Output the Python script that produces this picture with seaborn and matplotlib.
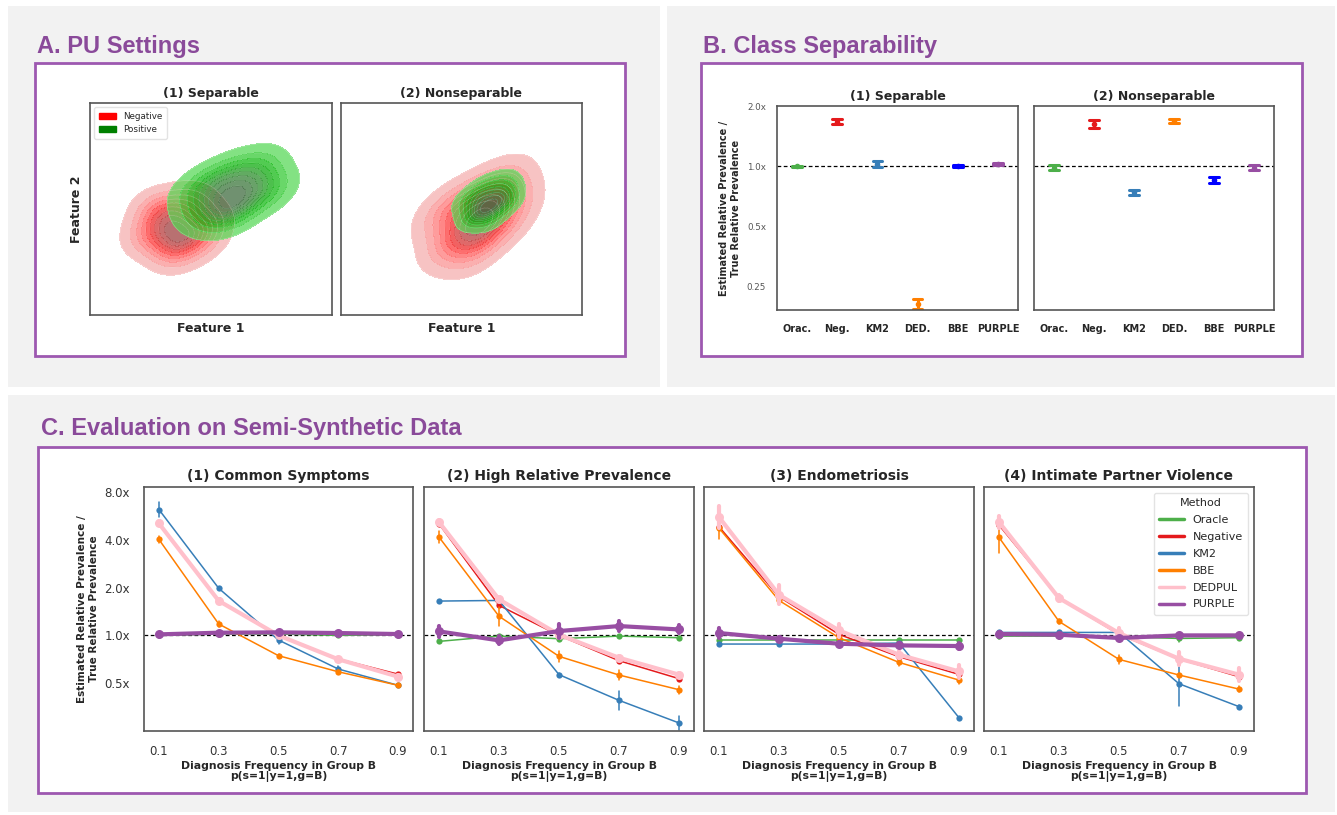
import numpy as np
import pandas as pd
import matplotlib.pyplot as plt
import seaborn as sns
from matplotlib.patches import Rectangle, Patch
from matplotlib.lines import Line2D
from matplotlib.ticker import NullLocator

# ---------------- data ----------------
# A. PU settings: sample clouds (feature 1, feature 2)
sep_neg_x = [2.4, 3.0, 3.5, 3.7, 4.2, 2.8, 3.3, 4.6, 3.9, 2.2, 3.6, 4.4, 3.1, 5.0, 3.4, 2.6, 4.0, 3.8, 4.8, 3.2]
sep_neg_y = [4.0, 3.8, 4.0, 4.5, 3.3, 5.1, 4.9, 3.7, 3.6, 3.5, 3.4, 5.4, 4.3, 4.6, 2.8, 4.8, 4.1, 5.3, 4.0, 3.1]
sep_pos_x = [4.5, 5.2, 5.8, 6.2, 6.7, 5.0, 5.4, 7.1, 6.3, 4.3, 5.9, 6.9, 5.3, 7.5, 5.7, 4.8, 6.4, 6.0, 7.3, 5.6]
sep_pos_y = [5.0, 5.3, 5.7, 6.2, 6.3, 4.6, 6.5, 6.7, 5.2, 5.8, 5.0, 7.2, 6.0, 6.1, 4.5, 6.2, 5.6, 6.9, 5.6, 5.1]
nonsep_neg_x = [4.3, 5.0, 5.6, 5.9, 6.5, 4.7, 5.3, 7.0, 6.1, 4.0, 5.8, 6.8, 5.1, 7.3, 5.5, 4.5, 6.2, 6.0, 6.9, 5.4]
nonsep_neg_y = [3.4, 4.1, 4.4, 5.0, 5.3, 3.1, 5.5, 5.9, 4.0, 4.6, 3.6, 6.4, 4.8, 5.2, 2.9, 5.1, 4.5, 6.0, 4.3, 3.8]
nonsep_pos_x = [5.4, 5.8, 6.1, 6.3, 6.6, 5.6, 5.9, 6.9, 6.4, 5.2, 6.0, 6.7, 5.7, 7.0, 6.2, 5.5, 6.5, 6.1, 6.8, 5.9]
nonsep_pos_y = [4.7, 5.0, 5.2, 5.5, 5.7, 4.6, 5.8, 6.0, 5.1, 5.3, 4.8, 6.3, 5.4, 5.5, 4.5, 5.6, 5.3, 6.1, 5.2, 4.9]

# B. class separability: estimate and multiplicative spread of the interval
b_methods = ["Orac.", "Neg.", "KM2", "DED.", "BBE", "PURPLE"]
b_colors = ["#4daf4a", "#e41a1c", "#377eb8", "#ff7f00", "#0000ff", "#984ea3"]
sep_ratio = [1.0, 1.67, 1.027, 0.204, 1.004, 1.024]
sep_spread = [1.006, 1.033, 1.036, 1.058, 1.01, 1.01]
nonsep_ratio = [0.981, 1.623, 0.739, 1.687, 0.853, 0.981]
nonsep_spread = [1.032, 1.044, 1.032, 1.024, 1.036, 1.028]

# C. semi-synthetic evaluation
freq = [0.1, 0.3, 0.5, 0.7, 0.9]
freq_labels = ["0.1", "0.3", "0.5", "0.7", "0.9"]
methods = ["Oracle", "Negative", "KM2", "BBE", "DEDPUL", "PURPLE"]
method_colors = ["#4daf4a", "#e41a1c", "#377eb8", "#ff7f00", "pink", "#984ea3"]
scenarios = ["(1) Common Symptoms", "(2) High Relative Prevalence", "(3) Endometriosis", "(4) Intimate Partner Violence"]

common_ratio = {
    "Oracle":   [1.0, 1.02, 1.02, 1.0, 1.01],
    "Negative": [5.1, 1.66, 1.0, 0.71, 0.57],
    "KM2":      [6.2, 1.98, 0.935, 0.614, 0.485],
    "BBE":      [4.02, 1.18, 0.745, 0.59, 0.485],
    "DEDPUL":   [5.07, 1.65, 1.0, 0.707, 0.55],
    "PURPLE":   [1.015, 1.04, 1.045, 1.035, 1.02],
}
common_spread = {
    "Oracle":   [1.01, 1.01, 1.01, 1.02, 1.01],
    "Negative": [1.02, 1.02, 1.01, 1.01, 1.02],
    "KM2":      [1.12, 1.02, 1.06, 1.05, 1.02],
    "BBE":      [1.05, 1.05, 1.02, 1.02, 1.02],
    "DEDPUL":   [1.03, 1.02, 1.02, 1.02, 1.02],
    "PURPLE":   [1.01, 1.01, 1.01, 1.01, 1.01],
}
highprev_ratio = {
    "Oracle":   [0.917, 0.99, 0.953, 0.99, 0.967],
    "Negative": [5.04, 1.545, 1.0, 0.693, 0.534],
    "KM2":      [1.645, 1.66, 0.566, 0.39, 0.281],
    "BBE":      [4.16, 1.32, 0.738, 0.563, 0.455],
    "DEDPUL":   [5.17, 1.685, 1.01, 0.723, 0.566],
    "PURPLE":   [1.06, 0.93, 1.065, 1.145, 1.09],
}
highprev_spread = {
    "Oracle":   [1.01, 1.02, 1.01, 1.01, 1.01],
    "Negative": [1.02, 1.02, 1.01, 1.02, 1.02],
    "KM2":      [1.02, 1.02, 1.02, 1.15, 1.1],
    "BBE":      [1.09, 1.15, 1.08, 1.08, 1.06],
    "DEDPUL":   [1.03, 1.03, 1.02, 1.02, 1.02],
    "PURPLE":   [1.08, 1.06, 1.1, 1.07, 1.06],
}
endo_ratio = {
    "Oracle":   [0.935, 0.935, 0.935, 0.935, 0.935],
    "Negative": [4.83, 1.75, 1.015, 0.734, 0.568],
    "KM2":      [0.882, 0.882, 0.882, 0.895, 0.303],
    "BBE":      [4.74, 1.66, 0.967, 0.676, 0.523],
    "DEDPUL":   [5.56, 1.80, 1.075, 0.756, 0.593],
    "PURPLE":   [1.035, 0.953, 0.886, 0.865, 0.857],
}
endo_spread = {
    "Oracle":   [1.01, 1.01, 1.01, 1.01, 1.01],
    "Negative": [1.02, 1.02, 1.02, 1.02, 1.02],
    "KM2":      [1.01, 1.01, 1.01, 1.01, 1.01],
    "BBE":      [1.17, 1.03, 1.03, 1.06, 1.06],
    "DEDPUL":   [1.17, 1.15, 1.1, 1.05, 1.1],
    "PURPLE":   [1.08, 1.03, 1.02, 1.03, 1.04],
}
ipv_ratio = {
    "Oracle":   [0.99, 0.99, 0.98, 0.957, 0.967],
    "Negative": [4.95, 1.717, 1.015, 0.71, 0.549],
    "KM2":      [1.044, 1.044, 1.044, 0.496, 0.356],
    "BBE":      [4.14, 1.225, 0.706, 0.563, 0.459],
    "DEDPUL":   [5.17, 1.717, 1.034, 0.713, 0.566],
    "PURPLE":   [1.02, 1.01, 0.963, 1.0, 1.0],
}
ipv_spread = {
    "Oracle":   [1.05, 1.03, 1.02, 1.05, 1.04],
    "Negative": [1.02, 1.02, 1.02, 1.02, 1.02],
    "KM2":      [1.02, 1.02, 1.02, 1.38, 1.02],
    "BBE":      [1.25, 1.04, 1.07, 1.03, 1.05],
    "DEDPUL":   [1.09, 1.05, 1.08, 1.1, 1.1],
    "PURPLE":   [1.01, 1.01, 1.01, 1.01, 1.01],
}

# ---------------- styling ----------------
sns.set_theme(style="white")
plt.rcParams['font.family'] = ['DejaVu Sans']

W, H = 1337, 815
PURPLE_TXT = "#8a4a9a"
PURPLE_BOX = "#9d58b0"
GRAY_BG = "#f2f2f2"
SPINE = "#555555"

fig = plt.figure(figsize=(W / 100, H / 100), dpi=100)
fig.patch.set_facecolor("white")


def px_axes(x0, y0, x1, y1):
    return fig.add_axes([x0 / W, 1 - y1 / H, (x1 - x0) / W, (y1 - y0) / H])


def px_rect(x0, y0, x1, y1, **kw):
    fig.add_artist(Rectangle((x0 / W, 1 - y1 / H), (x1 - x0) / W, (y1 - y0) / H,
                             transform=fig.transFigure, zorder=-5, **kw))


def px_text(x, y, s, **kw):
    fig.text(x / W, 1 - y / H, s, **kw)


def style_spines(ax):
    for sp in ax.spines.values():
        sp.set_color(SPINE)
        sp.set_linewidth(1.2)


def spread_frame(keys, ratio, spread, key):
    # each estimate with its lower/upper interval end, median gives the estimate back
    rows = []
    for k, r, s in zip(keys, ratio, spread):
        for v in (r / s, r, r * s):
            rows.append({key: k, "ratio": v})
    return pd.DataFrame(rows)


# panel backgrounds and frames
px_rect(8, 6, 660, 387, facecolor=GRAY_BG, edgecolor="none")
px_rect(667, 6, 1335, 387, facecolor=GRAY_BG, edgecolor="none")
px_rect(8, 395, 1335, 812, facecolor=GRAY_BG, edgecolor="none")
px_rect(35, 63, 625, 356, facecolor="white", edgecolor=PURPLE_BOX, linewidth=2)
px_rect(701, 63, 1302, 356, facecolor="white", edgecolor=PURPLE_BOX, linewidth=2)
px_rect(38, 447, 1306, 793, facecolor="white", edgecolor=PURPLE_BOX, linewidth=2)

title_kw = dict(color=PURPLE_TXT, fontsize=17, fontweight="bold", va="center", ha="left",
                family=["Liberation Sans", "DejaVu Sans"])
px_text(37, 46, "A. PU Settings", **title_kw)
px_text(703, 46, "B. Class Separability", **title_kw)
px_text(41, 429, "C. Evaluation on Semi-Synthetic Data", **title_kw)

# ---------------- A. PU settings ----------------
a_boxes = [(90, 103, 332, 315), (341, 103, 582, 315)]
a_titles = ["(1) Separable", "(2) Nonseparable"]
a_clouds = [((sep_neg_x, sep_neg_y), (sep_pos_x, sep_pos_y)),
            ((nonsep_neg_x, nonsep_neg_y), (nonsep_pos_x, nonsep_pos_y))]
kde_kw = dict(levels=10, bw_adjust=1.35)
for i, box in enumerate(a_boxes):
    ax = px_axes(*box)
    (nx, ny), (gx, gy) = a_clouds[i]
    for cx, cy, col in [(nx, ny, "red"), (gx, gy, "green")]:
        sns.kdeplot(x=cx, y=cy, fill=True, color=col, alpha=0.7, ax=ax, **kde_kw)
        # faint light seams between the density bands
        sns.kdeplot(x=cx, y=cy, fill=False, colors="white", linewidths=0.5,
                    alpha=0.3, ax=ax, **kde_kw)
    ax.set_xlim(0, 10)
    ax.set_ylim(0, 10)
    ax.set_xticks([])
    ax.set_yticks([])
    style_spines(ax)
    ax.set_title(a_titles[i], fontsize=9, fontweight="bold", pad=4)
    ax.set_xlabel("Feature 1", fontsize=9, fontweight="bold", labelpad=5)
    if i == 0:
        ax.set_ylabel("Feature 2", fontsize=9, fontweight="bold", labelpad=5)
        handles = [Patch(color="red", label="Negative"), Patch(color="green", label="Positive")]
        ax.legend(handles=handles, loc="upper left", fontsize=6.3, frameon=True,
                  edgecolor="#dddddd", handlelength=2.0, borderpad=0.5)
    else:
        ax.set_ylabel("")

# ---------------- B. class separability ----------------
b_boxes = [(777, 106, 1018, 310), (1034, 106, 1274, 310)]
b_titles = ["(1) Separable", "(2) Nonseparable"]
b_data = [(sep_ratio, sep_spread), (nonsep_ratio, nonsep_spread)]
for i, box in enumerate(b_boxes):
    ax = px_axes(*box)
    ax.set_yscale("log", base=2)
    ratio, spread = b_data[i]
    df = spread_frame(b_methods, ratio, spread, "method")
    sns.pointplot(data=df, x="method", y="ratio", hue="method", order=b_methods,
                  hue_order=b_methods, palette=b_colors, estimator="median",
                  errorbar=("pi", 100), capsize=0.24, linestyle="none",
                  markersize=2, err_kws={"linewidth": 2.2}, legend=False, ax=ax)
    ax.axhline(1, color="black", ls=(0, (3, 2)), lw=0.9, zorder=0)
    ax.set_ylim(0.19, 2.0)
    ax.set_xlim(-0.5, 5.5)
    ax.set_yticks([0.25, 0.5, 1, 2])
    ax.set_yticklabels(["0.25", "0.5x", "1.0x", "2.0x"])
    ax.yaxis.set_minor_locator(NullLocator())
    ax.tick_params(axis="y", labelsize=6.3, labelcolor="#555555", pad=2)
    ax.tick_params(axis="x", labelsize=7, pad=4)
    for lab in ax.get_xticklabels():
        lab.set_fontweight("bold")
    style_spines(ax)
    ax.set_title(b_titles[i], fontsize=9, fontweight="bold", pad=4)
    ax.set_xlabel("")
    if i == 0:
        ax.set_ylabel("Estimated Relative Prevalence /\nTrue Relative Prevalence",
                      fontsize=7, fontweight="bold", labelpad=4)
    else:
        ax.set_ylabel("")
        ax.tick_params(labelleft=False)

# ---------------- C. semi-synthetic data ----------------
c_boxes = [(144, 487, 413, 731), (424, 487, 694, 731), (704, 487, 974, 731), (984, 487, 1254, 731)]
c_data = [(common_ratio, common_spread), (highprev_ratio, highprev_spread),
          (endo_ratio, endo_spread), (ipv_ratio, ipv_spread)]
thick = {"DEDPUL", "PURPLE"}
for i, box in enumerate(c_boxes):
    ax = px_axes(*box)
    ax.set_yscale("log", base=2)
    ratios, spreads = c_data[i]
    for m, col in zip(methods, method_colors):
        lw = 3.0 if m in thick else 1.1
        ms = 6.5 if m in thick else 4.5
        df = spread_frame(freq, ratios[m], spreads[m], "freq")
        sns.lineplot(data=df, x="freq", y="ratio", color=col, estimator="median",
                     errorbar=("pi", 100), err_style="bars", marker="o",
                     markersize=ms, markeredgewidth=0, linewidth=lw,
                     err_kws={"linewidth": lw}, legend=False, ax=ax)
    ax.axhline(1, color="black", ls=(0, (3, 2)), lw=0.9, zorder=1)
    ax.set_ylim(0.25, 8.6)
    ax.set_xlim(0.05, 0.95)
    ax.set_xticks(freq)
    ax.set_xticklabels(freq_labels)
    ax.set_yticks([0.5, 1, 2, 4, 8])
    ax.set_yticklabels(["0.5x", "1.0x", "2.0x", "4.0x", "8.0x"])
    ax.yaxis.set_minor_locator(NullLocator())
    ax.tick_params(labelsize=8.5, labelcolor="#333333", pad=4)
    style_spines(ax)
    ax.set_title(scenarios[i], fontsize=10, fontweight="bold", pad=5)
    ax.set_xlabel("Diagnosis Frequency in Group B\np(s=1|y=1,g=B)", fontsize=7.8,
                  fontweight="bold", labelpad=2, linespacing=1.1)
    if i == 0:
        ax.set_ylabel("Estimated Relative Prevalence /\nTrue Relative Prevalence",
                      fontsize=7.5, fontweight="bold", labelpad=4)
    else:
        ax.set_ylabel("")
        ax.tick_params(labelleft=False)
    if i == 3:
        handles = [Line2D([0], [0], color=c, lw=2.5) for c in method_colors]
        ax.legend(handles, methods, title="Method", loc="upper right", fontsize=8,
                  title_fontsize=8, frameon=True, edgecolor="#dddddd",
                  handlelength=2.2, labelspacing=0.62, borderpad=0.5)

fig.savefig("out.png", dpi=100)
